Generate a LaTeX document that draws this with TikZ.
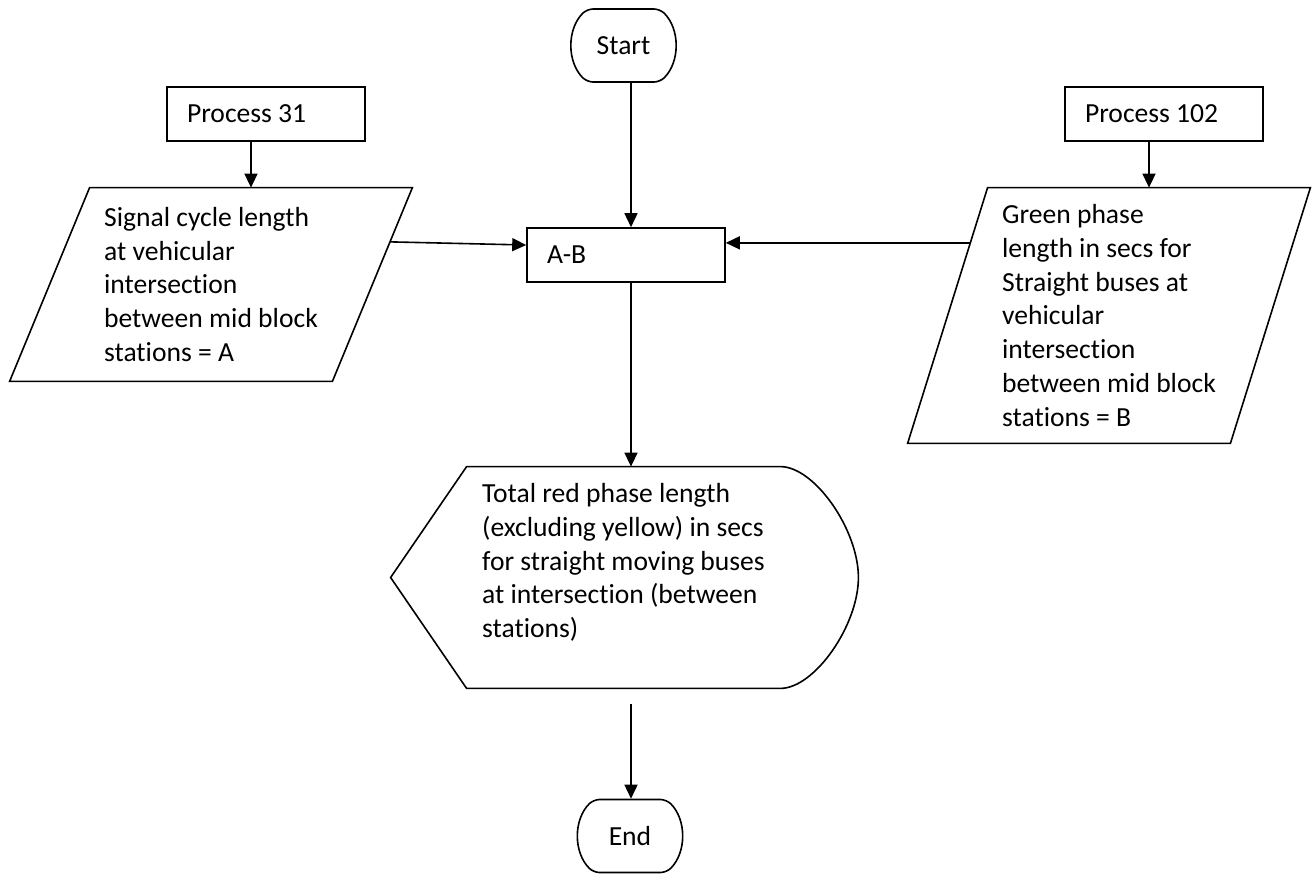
\documentclass[tikz,border=0pt]{standalone}
\usepackage{fontspec}
\setmainfont{Carlito}[Ligatures=NoCommon]
\usetikzlibrary{shapes.misc, arrows.meta, positioning, calc}

\begin{document}
\begin{tikzpicture}[
    x=0.5pt, y=-0.5pt,
    font=\fontsize{13.8pt}{16.85pt}\selectfont,
    terminal/.style={
        rounded rectangle, rounded rectangle arc length=90,
        minimum width=49.5pt, minimum height=36.5pt,
        rounded corners=3pt, draw, line width=0.8pt
    },
    procbox/.style={
        rectangle, minimum width=99pt, minimum height=27pt,
        text width=79pt, inner xsep=10pt, align=flush left,
        draw, line width=0.8pt
    },
    iobox/.style={
        rectangle, minimum width=161pt, align=left, inner sep=0pt
    },
    outline/.style={draw, line width=0.8pt},
    arrow/.style={-{Triangle[length=7pt,width=6.5pt]}, line width=0.8pt}
]
\useasboundingbox (0,0) rectangle (1312,874);
\node (start) [terminal] at (623.5,45.5) {Start};
\node (p31) [procbox] at (266,114) {Process 31};
\node (p102) [procbox] at (1164,114) {Process 102};
\node (sig) [iobox, minimum height=96.5pt] at (211,284.5) {Signal cycle length\\at vehicular\\intersection\\between mid block\\stations = A};
\node (grn) [iobox, minimum height=127.5pt] at (1109,315.5) {Green phase\\length in secs for\\Straight buses at\\vehicular\\intersection\\between mid block\\stations = B};
\node (ab) [procbox] at (626,255) {A-B};
\node (red) [iobox, minimum width=156.5pt, minimum height=110.5pt, text depth=17pt] at (623.5,577.5) {Total red phase length\\(excluding yellow) in secs\\for straight moving buses\\at intersection (between\\stations)};
\node (endn) [terminal] at (630,836) {End};

% input and display outlines
\draw [outline] ([xshift=20pt]sig.north west)--([xshift=20pt]sig.north east)--([xshift=-20pt]sig.south east)--([xshift=-20pt]sig.south west)--cycle;
\draw [outline] ([xshift=20pt]grn.north west)--([xshift=20pt]grn.north east)--([xshift=-20pt]grn.south east)--([xshift=-20pt]grn.south west)--cycle;
\draw [outline] (red.north west)--(red.north east) .. controls +(17pt,0pt) and +(0pt,24pt) .. ([xshift=39pt]red.east) .. controls +(0pt,-24pt) and +(17pt,0pt) .. (red.south east)--(red.south west)--([xshift=-38pt]red.west)--cycle;

\coordinate (axis) at (631,0);
\coordinate (sigtop) at ([xshift=20pt]sig.north);
\coordinate (grntop) at ([xshift=20pt]grn.north);
\coordinate (sigR) at ($([xshift=20pt]sig.north east)!0.28!([xshift=-20pt]sig.south east)$);
\coordinate (grnL) at ($([xshift=20pt]grn.north west)!0.216!([xshift=-20pt]grn.south west)$);
\coordinate (redout) at ([yshift=-8pt]red.south);

\draw [arrow] (start.south -| axis)--(ab.north -| axis);
\draw [arrow] (p31.south -| sigtop)--(sigtop);
\draw [arrow] (p102.south -| grntop)--(grntop);
\draw [arrow] (sigR)--([yshift=5pt]ab.west);
\draw [arrow] (grnL)--(grnL -| ab.east);
\draw [arrow] (ab.south -| axis)--(red.north -| axis);
\draw [arrow] (redout -| axis)--(endn.north -| axis);
\end{tikzpicture}
\end{document}
